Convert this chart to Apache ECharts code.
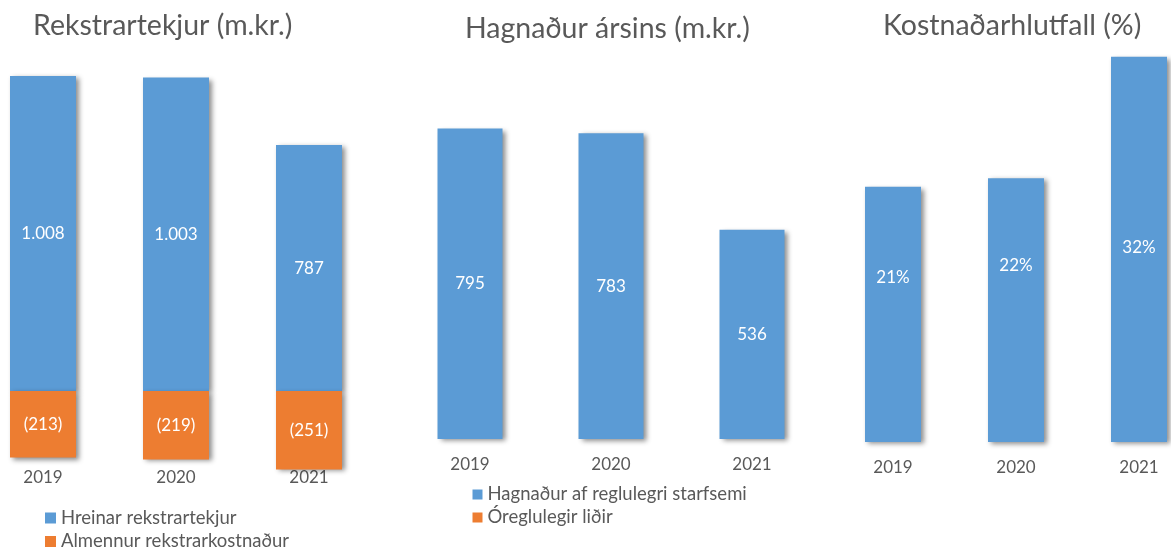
<!DOCTYPE html>
<html>
<head>
<meta charset="utf-8">
<script src="https://cdn.jsdelivr.net/npm/echarts@6/dist/echarts.min.js"></script>
<style>
html,body{margin:0;padding:0;background:#fff;}
#c{width:1171px;height:555px;}
</style>
</head>
<body>
<div id="c"></div>
<script>
// ---- data ----
const years = ['2019', '2020', '2021'];
const revenueNet = [1008, 1003, 787];          // Hreinar rekstrartekjur
const operatingCost = [-213, -219, -251];      // Almennur rekstrarkostnaður
const profitRegular = [795, 783, 536];         // Hagnaður af reglulegri starfsemi
const irregularItems = [0, 0, 0];              // Óreglulegir liðir
const costRatio = [21.2, 21.9, 32.0];          // Kostnaðarhlutfall (%)
const panelTitles = ['Rekstrartekjur (m.kr.)', 'Hagnaður ársins (m.kr.)', 'Kostnaðarhlutfall (%)'];
const seriesNames = ['Hreinar rekstrartekjur', 'Almennur rekstrarkostnaður', 'Hagnaður af reglulegri starfsemi', 'Óreglulegir liðir'];

// ---- style ----
const BLUE = '#5B9BD5', ORANGE = '#ED7D31', GREY = '#595959';
const FONT = 'Lato';
const shadow = {shadowColor: 'rgba(0,0,0,0.45)', shadowBlur: 5, shadowOffsetX: 3, shadowOffsetY: 2};
const fmtThousands = v => {
  const a = Math.abs(Math.round(v)).toString().replace(/\B(?=(\d{3})+(?!\d))/g, '.');
  return v < 0 ? '(' + a + ')' : a;
};
const lbl = {show: true, position: 'inside', color: '#fff', fontFamily: FONT, fontSize: 17};
const pctShift = [-37, -45, -2];

// grids span from first to last category centre (boundaryGap false)
const grids = [
  {left: 43, width: 266, top: 47.25, height: 423.75},
  {left: 470, width: 282, top: 87.5, height: 351.5},
  {left: 893, width: 246, top: 20.6, height: 421.4}
];
const xAxisBase = (gi, margin) => ({
  type: 'category', gridIndex: gi, data: years, boundaryGap: false,
  axisLine: {show: false}, axisTick: {show: false}, splitLine: {show: false},
  axisLabel: {color: GREY, fontFamily: FONT, fontSize: 17, margin: margin, verticalAlign: 'middle'}
});
const yAxisBase = (gi, min, max) => ({type: 'value', gridIndex: gi, min: min, max: max, show: false, splitLine: {show: false}});
const titleStyle = {color: GREY, fontFamily: FONT, fontWeight: 'normal', fontSize: 28.5};
const legendText = {color: GREY, fontFamily: FONT, fontSize: 18.5};

const option = {
  animation: false,
  backgroundColor: '#fff',
  title: [
    {text: panelTitles[0], left: 33, top: 11, padding: 0, textStyle: titleStyle},
    {text: panelTitles[1], left: 465, top: 14, padding: 0, textStyle: titleStyle},
    {text: panelTitles[2], left: 883, top: 11, padding: 0, textStyle: titleStyle}
  ],
  legend: [
    {orient: 'vertical', left: 45, top: 508.5, padding: 0, itemWidth: 11, itemHeight: 11, itemGap: 4.5, icon: 'rect',
     data: [seriesNames[0], seriesNames[1]], textStyle: legendText, selectedMode: false},
    {orient: 'vertical', left: 472.5, top: 485, padding: 0, itemWidth: 10, itemHeight: 10, itemGap: 4, icon: 'rect',
     data: [seriesNames[2], seriesNames[3]], textStyle: legendText, selectedMode: false}
  ],
  grid: grids,
  xAxis: [xAxisBase(0, 7), xAxisBase(1, 26), xAxisBase(2, 26)],
  yAxis: [yAxisBase(0, -256, 1100), yAxisBase(1, 0, 900), yAxisBase(2, 0, 35)],
  series: [
    {name: seriesNames[0], type: 'bar', xAxisIndex: 0, yAxisIndex: 0, stack: 'a', barWidth: 66, clip: false,
     data: revenueNet, itemStyle: Object.assign({color: BLUE}, shadow),
     label: Object.assign({}, lbl, {formatter: p => fmtThousands(p.value)})},
    {name: seriesNames[1], type: 'bar', xAxisIndex: 0, yAxisIndex: 0, stack: 'a', barWidth: 66, clip: false,
     data: operatingCost, itemStyle: Object.assign({color: ORANGE}, shadow),
     label: Object.assign({}, lbl, {formatter: p => fmtThousands(p.value)})},
    {name: seriesNames[2], type: 'bar', xAxisIndex: 1, yAxisIndex: 1, stack: 'b', barWidth: 65, clip: false,
     data: profitRegular, itemStyle: Object.assign({color: BLUE}, shadow),
     label: Object.assign({}, lbl, {formatter: p => fmtThousands(p.value)})},
    {name: seriesNames[3], type: 'bar', xAxisIndex: 1, yAxisIndex: 1, stack: 'b', barWidth: 65, clip: false,
     data: irregularItems, itemStyle: {color: ORANGE}, label: {show: false}},
    {name: 'Kostnaðarhlutfall', type: 'bar', xAxisIndex: 2, yAxisIndex: 2, barWidth: 56, clip: false,
     data: costRatio.map((v, i) => ({value: v, label: {offset: [0, pctShift[i]]}})),
     itemStyle: Object.assign({color: BLUE}, shadow),
     label: Object.assign({}, lbl, {formatter: p => Math.round(p.value) + '%'})}
  ]
};
const chart = echarts.init(document.getElementById('c'), null, {renderer: 'canvas'});
chart.setOption(option);
</script>
</body>
</html>
